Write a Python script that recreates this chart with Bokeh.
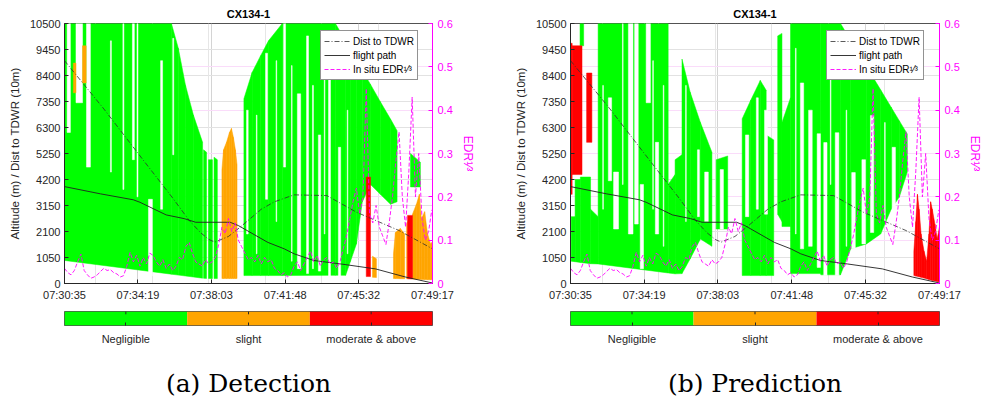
from bokeh.embed import file_html
from bokeh.layouts import column, row
from bokeh.models import (FixedTicker, Grid, Legend, LegendItem,
                          LinearAxis, Range1d, Title)
from bokeh.plotting import figure
from bokeh.resources import INLINE

FONT = "Liberation Sans"
INK = "#262626"
MAGENTA = "#ff00ff"

# ---- time axis (seconds after 07:30:35) ----
T_END = 1122
TICK_SECONDS = [0, 224, 448, 673, 897, 1122]
TICK_LABELS = ["07:30:35", "07:34:19", "07:38:03", "07:41:48", "07:45:32", "07:49:17"]
AUX_GRID_SECONDS = [96, 268, 440, 612, 784, 956]

ALT_TICKS = [0, 1050, 2100, 3150, 4200, 5250, 6300, 7350, 8400, 9450, 10500]
EDR_TICKS = [0, 0.1, 0.2, 0.3, 0.4, 0.5, 0.6]
EDR_TICK_LABELS = ["0", "0.1", "0.2", "0.3", "0.4", "0.5", "0.6"]

LEVELS = ["Negligible", "slight", "moderate & above"]
LEVEL_COLORS = ["#00ff00", "#ffa500", "#ff0000"]
NEG, SLI, MOD = LEVELS

# ---- distance to the TDWR radar (10 m units) ----
DIST_T = [0, 120, 242, 330, 380, 415, 440, 458, 500, 537, 600, 640, 700, 800, 890, 1020, 1122]
DIST = [9000, 7050, 4950, 3450, 2550, 2050, 1780, 1670, 1900, 2290, 3000, 3300, 3580, 3550, 2880, 2140, 1400]

# ---- flight altitude (m) ----
PATH_T = [0, 110, 210, 230, 310, 365, 400, 505, 530, 620, 670, 700, 760, 842, 948, 1040, 1122]
PATH = [3913, 3620, 3380, 3280, 2770, 2620, 2473, 2473, 2340, 1660, 1400, 1200, 930, 790, 590, 260, 20]

# ---- in situ EDR^(1/3), one sample every 10 s ----
EDR_STEP_S = 10
EDR = [0.035, 0.025, 0.02, 0.03, 0.05, 0.068, 0.03, 0.02, 0.012, 0.015,
       0.02, 0.028, 0.035, 0.03, 0.032, 0.025, 0.022, 0.015, 0.018, 0.04,
       0.072, 0.05, 0.065, 0.04, 0.06, 0.045, 0.07, 0.065, 0.05, 0.04,
       0.055, 0.035, 0.045, 0.03, 0.04, 0.06, 0.055, 0.085, 0.095, 0.07,
       0.05, 0.045, 0.04, 0.055, 0.045, 0.05, 0.06, 0.09, 0.13, 0.115,
       0.15, 0.12, 0.14, 0.1, 0.085, 0.07, 0.055, 0.06, 0.05, 0.065,
       0.045, 0.06, 0.05, 0.055, 0.035, 0.03, 0.02, 0.025, 0.015, 0.02,
       0.04, 0.05, 0.03, 0.045, 0.06, 0.075, 0.05, 0.065, 0.04, 0.055,
       0.06, 0.045, 0.05, 0.035, 0.05, 0.08, 0.11, 0.15, 0.19, 0.22,
       0.16, 0.2, 0.45, 0.16, 0.14, 0.18, 0.13, 0.11, 0.09, 0.14,
       0.2, 0.28, 0.35, 0.2, 0.13, 0.26, 0.43, 0.2, 0.3, 0.15,
       0.1, 0.12, 0.17]

# ---- radar echo cells: (t0, t1, bottom0, bottom1, top0, top1, level) ----
DETECTION_CELLS = [
    (0, 326, 930, 376, 10500, 10500, NEG),
    (326, 347, 376, 340, 10500, 9500, NEG),
    (347, 369, 340, 303, 9500, 8000, NEG),
    (369, 393, 303, 262, 8000, 6800, NEG),
    (393, 421, 262, 214, 6800, 5700, NEG),
    (424, 433, 210, 205, 5400, 5300, NEG),
    (439, 451, 205, 200, 5000, 5000, NEG),
    (456, 466, 200, 200, 5100, 5000, NEG),
    (547, 572, 320, 320, 7460, 8520, NEG),
    (572, 598, 320, 320, 8520, 9200, NEG),
    (598, 622, 320, 320, 9200, 9800, NEG),
    (622, 664, 320, 320, 9800, 10500, NEG),
    (664, 826, 320, 330, 10500, 10500, NEG),
    (826, 857, 330, 330, 10500, 9800, NEG),
    (857, 872, 330, 900, 9800, 9450, NEG),
    (872, 890, 900, 1600, 9450, 9030, NEG),
    (890, 908, 1600, 3300, 9030, 8600, NEG),
    (908, 933, 3300, 4000, 8600, 8040, NEG),
    (933, 963, 4000, 3600, 8040, 7340, NEG),
    (963, 994, 3600, 3200, 7340, 6640, NEG),
    (994, 1014, 3200, 3300, 6640, 6170, NEG),
    (1055, 1085, 3900, 3900, 5250, 4900, NEG),
    (27, 35, 7700, 7700, 8900, 8900, SLI),
    (55, 66, 8100, 8100, 9600, 9600, SLI),
    (480, 485, 200, 200, 4600, 5400, SLI),
    (485, 494, 200, 200, 5400, 5700, SLI),
    (494, 503, 200, 200, 5700, 6100, SLI),
    (503, 509, 200, 200, 6100, 6260, SLI),
    (509, 515, 200, 200, 6260, 5900, SLI),
    (515, 521, 200, 200, 5900, 5400, SLI),
    (521, 526, 200, 200, 5400, 4800, SLI),
    (939, 951, 250, 240, 1100, 1000, SLI),
    (1003, 1009, 200, 200, 1200, 2060, SLI),
    (1009, 1024, 200, 195, 2060, 2220, SLI),
    (1024, 1037, 195, 190, 2220, 2000, SLI),
    (1043, 1046, 190, 190, 2400, 2500, SLI),
    (1061, 1073, 180, 175, 2800, 3200, SLI),
    (1073, 1082, 175, 170, 3200, 3600, SLI),
    (1082, 1088, 170, 165, 3600, 2600, SLI),
    (1088, 1098, 165, 160, 2600, 2900, SLI),
    (1098, 1107, 160, 155, 2900, 2000, SLI),
    (1107, 1116, 155, 150, 2000, 1600, SLI),
    (1116, 1122, 150, 150, 1600, 1700, SLI),
    (920, 933, 280, 280, 4300, 4300, MOD),
    (1046, 1061, 190, 180, 2750, 2750, MOD),
]
# echo-free streaks inside the cells: (t0, t1, bottom, top)
DETECTION_GAPS = [
    (8, 18, 6100, 10500), (35, 55, 7300, 10500), (67, 79, 4700, 10500),
    (140, 143, 4500, 9800), (178, 181, 3800, 10500),
    (207, 213, 5000, 10500), (221, 224, 3500, 10500), (256, 268, 300, 3400),
    (293, 299, 3000, 9000), (330, 333, 5200, 9900), (555, 560, 2000, 7000),
    (585, 587, 1200, 6800), (613, 619, 3400, 9300), (645, 647, 2500, 9000),
    (668, 674, 4700, 10500), (692, 694, 900, 8800), (710, 720, 600, 7660),
    (738, 744, 400, 10000), (756, 759, 600, 8000), (774, 781, 500, 6000),
    (792, 794, 2000, 9000), (805, 811, 300, 8500), (835, 842, 300, 5500),
    (862, 864, 1200, 7000),
]

PREDICTION_CELLS = [
    (2, 14, 900, 880, 2700, 2700, NEG),
    (14, 30, 880, 850, 4200, 4200, NEG),
    (30, 61, 850, 800, 4300, 4300, NEG),
    (61, 84, 800, 790, 3000, 2700, NEG),
    (29, 40, 9600, 9600, 10500, 10500, NEG),
    (84, 297, 790, 425, 10500, 10500, NEG),
    (297, 318, 425, 390, 4000, 4400, NEG),
    (318, 339, 390, 400, 5000, 5200, NEG),
    (339, 364, 400, 1000, 9065, 7720, NEG),
    (364, 395, 1000, 1800, 7720, 6500, NEG),
    (395, 430, 1800, 1500, 6500, 5300, NEG),
    (443, 478, 2200, 2200, 5000, 5150, NEG),
    (522, 548, 320, 320, 6650, 7400, NEG),
    (548, 577, 320, 320, 7400, 8200, NEG),
    (577, 595, 320, 320, 8200, 7800, NEG),
    (595, 618, 320, 320, 6000, 5800, NEG),
    (630, 643, 2800, 2500, 10000, 10100, NEG),
    (643, 669, 2300, 2300, 6500, 7500, NEG),
    (669, 761, 400, 400, 10500, 10500, NEG),
    (761, 821, 350, 350, 10500, 10500, NEG),
    (821, 852, 350, 1400, 10500, 9820, NEG),
    (852, 900, 1400, 1600, 9820, 8765, NEG),
    (900, 943, 1600, 2000, 8765, 7820, NEG),
    (943, 975, 2000, 3000, 7820, 7117, NEG),
    (975, 1000, 3000, 3500, 7117, 6567, NEG),
    (1000, 1024, 3500, 4500, 6567, 6040, NEG),
    (0, 5, 3600, 3600, 9700, 9700, MOD),
    (5, 35, 4400, 4400, 9600, 9600, MOD),
    (49, 65, 5700, 5700, 8500, 8500, MOD),
    (1044, 1050, 320, 300, 1300, 2500, MOD),
    (1050, 1055, 300, 290, 2500, 3600, MOD),
    (1055, 1060, 290, 270, 3600, 3000, MOD),
    (1060, 1066, 270, 250, 3000, 2000, MOD),
    (1066, 1075, 250, 220, 2000, 1300, MOD),
    (1075, 1083, 220, 190, 1300, 900, MOD),
    (1083, 1090, 190, 160, 900, 2000, MOD),
    (1090, 1095, 160, 140, 2000, 3300, MOD),
    (1095, 1100, 140, 120, 3300, 3000, MOD),
    (1100, 1108, 120, 100, 3000, 2400, MOD),
    (1108, 1115, 100, 80, 2400, 1800, MOD),
    (1115, 1122, 80, 60, 1800, 2300, MOD),
]
PREDICTION_GAPS = [
    (10, 12, 4400, 7800), (20, 22, 5000, 9600), (52, 54, 5700, 7600),
    (98, 100, 3000, 8000), (115, 125, 4150, 7500), (131, 146, 2200, 4500),
    (158, 160, 4000, 10500), (176, 190, 2000, 10500),
    (195, 206, 2400, 10500), (212, 222, 600, 4000), (230, 243, 7300, 10500),
    (250, 252, 3000, 9000), (258, 268, 2000, 5700), (282, 284, 1500, 8000),
    (350, 352, 2500, 8000), (386, 392, 2700, 5400), (408, 419, 2500, 4500),
    (455, 465, 2200, 4600), (532, 542, 2700, 6000), (565, 571, 3000, 7500),
    (590, 599, 2800, 7000), (684, 686, 2000, 9500), (699, 709, 1400, 8100),
    (724, 735, 1500, 7000), (750, 760, 650, 6050), (770, 780, 320, 5690),
    (790, 792, 4000, 10000), (805, 816, 320, 6090), (838, 840, 1500, 7000),
    (855, 866, 1400, 4480), (886, 897, 1600, 5000), (912, 922, 2060, 6780),
    (955, 957, 2500, 6500), (978, 988, 3000, 5500),
]


def cell_shapes(cells, level):
    xs, ys = [], []
    for t0, t1, b0, b1, h0, h1, lv in cells:
        if lv == level:
            xs.append([t0, t1, t1, t0])
            ys.append([b0, b1, h1, h0])
    return xs, ys


def style_ticks(ax, color=INK):
    ax.major_tick_in = 4
    ax.major_tick_out = 0
    ax.minor_tick_line_color = None
    ax.axis_line_color = color
    ax.major_tick_line_color = color
    ax.major_label_text_font = FONT
    ax.major_label_text_font_size = "11px"
    ax.major_label_text_color = color


def chart(cells, gaps, frame_w, right_border):
    p = figure(frame_width=frame_w, frame_height=260,
               min_border_left=64, min_border_right=right_border,
               min_border_top=23, min_border_bottom=20,
               x_range=Range1d(0, T_END), y_range=Range1d(0, 10500),
               title="CX134-1", output_backend="svg", toolbar_location=None)
    p.extra_y_ranges = {"edr": Range1d(0, 0.6)}
    p.outline_line_color = INK
    p.outline_line_width = 0.8

    p.title.align = "center"
    p.title.text_font = FONT
    p.title.text_font_size = "11px"
    p.title.text_font_style = "bold"
    p.title.text_color = "black"
    p.title.standoff = 7

    # grids
    p.xgrid.ticker = FixedTicker(ticks=TICK_SECONDS)
    p.xgrid.grid_line_color = "#d4d4d4"
    p.ygrid.ticker = FixedTicker(ticks=ALT_TICKS)
    p.ygrid.grid_line_color = "#e2e2e2"
    p.add_layout(Grid(dimension=0, ticker=FixedTicker(ticks=AUX_GRID_SECONDS),
                      grid_line_color="#e6e6e6"))
    p.add_layout(Grid(dimension=1, y_range_name="edr",
                      ticker=FixedTicker(ticks=EDR_TICKS),
                      grid_line_color="#fadcfa"))

    # axes
    xa = p.xaxis[0]
    xa.ticker = FixedTicker(ticks=TICK_SECONDS)
    xa.major_label_overrides = dict(zip(TICK_SECONDS, TICK_LABELS))
    style_ticks(xa)
    xa.major_label_standoff = 5

    ya = p.yaxis[0]
    ya.ticker = FixedTicker(ticks=ALT_TICKS)
    style_ticks(ya)
    ya.major_label_standoff = 4
    ya.axis_label = "Altitude (m) / Dist to TDWR (10m)"
    ya.axis_label_text_font = FONT
    ya.axis_label_text_font_size = "11.5px"
    ya.axis_label_text_font_style = "normal"
    ya.axis_label_text_color = INK
    ya.axis_label_standoff = 6

    ra = LinearAxis(y_range_name="edr", ticker=FixedTicker(ticks=EDR_TICKS),
                    major_label_overrides=dict(zip(EDR_TICKS, EDR_TICK_LABELS)))
    style_ticks(ra, MAGENTA)
    ra.major_label_standoff = 5
    ra.axis_label = "EDR¹⁄³"
    ra.axis_label_text_font = FONT
    ra.axis_label_text_font_size = "12px"
    ra.axis_label_text_font_style = "normal"
    ra.axis_label_text_color = MAGENTA
    ra.axis_label_standoff = 5
    p.add_layout(ra, "right")

    # echo cells
    xs, ys = cell_shapes(cells, NEG)
    p.patches(xs, ys, fill_color=LEVEL_COLORS[0], line_color=LEVEL_COLORS[0], line_width=0.5)
    gx = [[a, b, b, a] for a, b, lo, hi in gaps]
    gy = [[lo, lo, hi, hi] for a, b, lo, hi in gaps]
    p.patches(gx, gy, fill_color="white", line_color="white", line_width=0.5)
    for level, color in zip(LEVELS[1:], LEVEL_COLORS[1:]):
        xs, ys = cell_shapes(cells, level)
        if xs:
            p.patches(xs, ys, fill_color=color, line_color=color, line_width=0.5)

    # lines
    r_dist = p.line(DIST_T, DIST, line_color="#303030", line_width=0.8, line_dash="5 2 1 2")
    r_path = p.line(PATH_T, PATH, line_color="#202020", line_width=0.9)
    edr_t = [i * EDR_STEP_S for i in range(len(EDR))]
    r_edr = p.line(edr_t, EDR, y_range_name="edr", line_color=MAGENTA,
                   line_width=0.9, line_dash="4 2")

    legend = Legend(items=[LegendItem(label="Dist to TDWR", renderers=[r_dist]),
                           LegendItem(label="flight path", renderers=[r_path]),
                           LegendItem(label="In situ EDR¹⁄³", renderers=[r_edr])],
                    location=(256, 203), margin=0, padding=3, spacing=0,
                    glyph_width=26, glyph_height=14, label_height=14,
                    label_standoff=3, label_text_font=FONT,
                    label_text_font_size="10px", label_text_color="black",
                    border_line_color=INK, border_line_width=0.7,
                    background_fill_color="white", background_fill_alpha=1)
    p.add_layout(legend)
    return p


def scale_bar(caption, frame_w, right_border):
    c = figure(frame_width=frame_w, frame_height=14,
               min_border_left=64, min_border_right=right_border,
               min_border_top=8, min_border_bottom=78,
               x_range=Range1d(0, len(LEVELS)), y_range=Range1d(0, 1),
               output_backend="svg", toolbar_location=None)
    idx = list(range(len(LEVELS)))
    c.quad(left=idx, right=[i + 1 for i in idx], bottom=0, top=1,
           fill_color=LEVEL_COLORS, line_color=None)
    centers = [i + 0.5 for i in idx]
    # short ticks hanging from the top edge of the bar
    c.segment(x0=centers, y0=[1] * len(centers), x1=centers, y1=[0.8] * len(centers),
              line_color=INK, line_width=1)
    c.grid.visible = False
    c.yaxis.visible = False
    c.outline_line_color = INK
    c.outline_line_width = 0.8
    ax = c.xaxis[0]
    ax.ticker = FixedTicker(ticks=centers)
    ax.major_label_overrides = dict(zip(centers, LEVELS))
    style_ticks(ax)
    ax.major_tick_in = 3
    ax.axis_line_color = None
    ax.major_label_standoff = 7
    c.add_layout(Title(text=caption, align="center", text_font="DejaVu Serif",
                       text_font_size="25px", text_font_style="normal",
                       text_color="black", standoff=38), "below")
    return c


pa = chart(DETECTION_CELLS, DETECTION_GAPS, 368, 74)
ca = scale_bar("(a) Detection", 368, 74)
pb = chart(PREDICTION_CELLS, PREDICTION_GAPS, 369, 43)
cb = scale_bar("(b) Prediction", 369, 43)

layout = row(column(pa, ca, spacing=0), column(pb, cb, spacing=0), spacing=0)
open("out.html", "w").write(file_html(layout, INLINE))
